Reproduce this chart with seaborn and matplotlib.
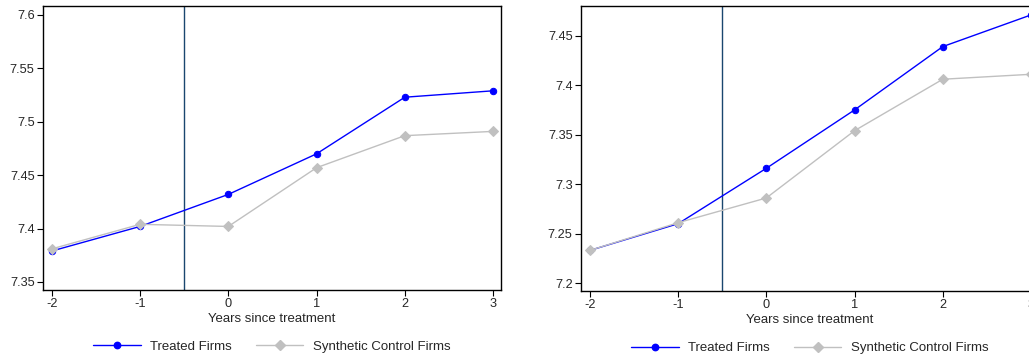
import matplotlib
matplotlib.use("Agg")
import matplotlib.pyplot as plt
import seaborn as sns
import pandas as pd
from matplotlib.lines import Line2D

years = [-2, -1, 0, 1, 2, 3]
left_treated = [7.379, 7.402, 7.432, 7.470, 7.523, 7.529]
left_synth = [7.381, 7.404, 7.402, 7.457, 7.487, 7.491]
right_treated = [7.233, 7.260, 7.316, 7.375, 7.439, 7.471]
right_synth = [7.233, 7.261, 7.286, 7.354, 7.406, 7.411]
left_yticks = [7.35, 7.4, 7.45, 7.5, 7.55, 7.6]
right_yticks = [7.2, 7.25, 7.3, 7.35, 7.4, 7.45]
series_names = ["Treated Firms", "Synthetic Control Firms"]
xlabel = "Years since treatment"

sns.set_theme(style="white")
plt.rcParams['font.family'] = ['Liberation Sans', 'DejaVu Sans']

fig = plt.figure(figsize=(10.29, 3.58), dpi=100)
ax1 = fig.add_axes([43/1029, 1-290/358, (501-43)/1029, (290-6)/358])
ax2 = fig.add_axes([581/1029, 1-291/358, (1039-581)/1029, (291-6)/358])

blue = "#0000ff"
gray = "#c0c0c0"
vline = "#1a476f"
ms = 4.6

def draw(ax, tr, sy, yticks, ylim):
    df = pd.DataFrame({"x": years * 2, "y": tr + sy,
                       "s": [series_names[0]] * 6 + [series_names[1]] * 6})
    ax.axvline(-0.5, color=vline, lw=1.0, zorder=1)
    sns.lineplot(data=df[df.s == series_names[0]], x="x", y="y", ax=ax, color=blue,
                 marker="o", markersize=ms, markeredgecolor=blue, lw=1.0, zorder=2)
    sns.lineplot(data=df[df.s == series_names[1]], x="x", y="y", ax=ax, color=gray,
                 marker="D", markersize=ms, markeredgecolor=gray, lw=1.0, zorder=3)
    ax.set_xlim(-2.1, 3.09)
    ax.set_ylim(*ylim)
    ax.set_xticks(years)
    ax.set_xticklabels([str(v) for v in years])
    ax.set_yticks(yticks)
    ax.set_yticklabels([f"{v:g}" for v in yticks])
    ax.set_xlabel(xlabel, fontsize=9.5, labelpad=2)
    ax.set_ylabel("")
    ax.tick_params(axis="both", direction="out", length=4, width=0.8, color="black",
                   labelsize=9.2, pad=2, left=True, bottom=True)
    for sp in ax.spines.values():
        sp.set_color("black")
        sp.set_linewidth(1.0)
    if ax.get_legend():
        ax.get_legend().remove()
    handles = [Line2D([], [], color=blue, marker="o", markersize=ms, lw=1.0),
               Line2D([], [], color=gray, marker="D", markersize=ms, lw=1.0)]
    ax.legend(handles, series_names, loc="center", bbox_to_anchor=(0.5, -0.2),
              ncol=2, frameon=False, fontsize=9.5, handlelength=3.6, columnspacing=1.8,
              handletextpad=0.75)

draw(ax1, left_treated, left_synth, left_yticks, (7.3425, 7.6084))
draw(ax2, right_treated, right_synth, right_yticks, (7.192, 7.480))

fig.savefig("out.png", dpi=100, facecolor="white")
